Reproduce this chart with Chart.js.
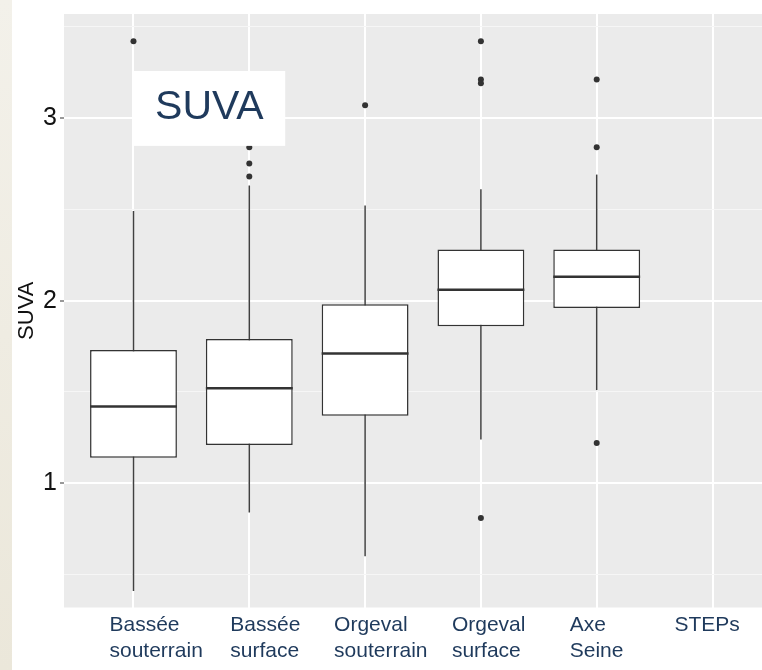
<!DOCTYPE html>
<html>
<head>
<meta charset="utf-8">
<script src="https://cdn.jsdelivr.net/npm/chart.js@4"></script>
<style>
html, body { margin: 0; padding: 0; background: #fff; overflow: hidden; width: 762px; height: 670px; }
.strip { position: absolute; left: 0; top: 0; width: 12px; height: 670px; background: linear-gradient(#F3F1EA, #EBE7DA); }
#wrap { position: absolute; left: 12px; top: 0; width: 774px; height: 670px; }
</style>
</head>
<body>
<div class="strip"></div>
<div id="wrap"><canvas id="suvaCanvas"></canvas></div>
<script>
// categories (x), one box per category; STEPs has no data
const categories = [['Bassée', 'souterrain'], ['Bassée', 'surface'], ['Orgeval', 'souterrain'], ['Orgeval', 'surface'], ['Axe', 'Seine'], ['STEPs']];
const whiskerLow  = [0.41, 0.84, 0.60, 1.24, 1.51, null];
const q1          = [1.14, 1.21, 1.37, 1.86, 1.96, null];
const median      = [1.42, 1.52, 1.71, 2.06, 2.13, null];
const q3          = [1.73, 1.79, 1.98, 2.28, 2.28, null];
const whiskerHigh = [2.49, 2.63, 2.52, 2.61, 2.69, null];
const outliers    = [[3.42], [2.84, 2.75, 2.68], [3.07], [3.42, 3.21, 3.19, 0.81], [3.21, 2.84, 1.22], []];
const yTicks = [0.5, 1, 1.5, 2, 2.5, 3, 3.5];
const yTitle = 'SUVA';
const panelLabel = 'SUVA';

// the category names sit in left-aligned text boxes, a bit left of each tick
const labelShift = [-24, -19, -31, -29, -27, -38];
const labelFont = '21px "Liberation Sans", Arial, sans-serif';

const boxData = [];
categories.forEach((c, i) => {
    if (q1[i] !== null) boxData.push({ x: i + 1, y: [q1[i], q3[i]] });
});
const outlierData = [];
outliers.forEach((list, i) => list.forEach(v => outlierData.push({ x: i + 1, y: v })));

const boxPlot = {
    id: 'boxPlot',
    beforeDraw(chart) {
        const a = chart.chartArea, ctx = chart.ctx;
        ctx.save();
        ctx.fillStyle = '#EBEBEB';
        ctx.fillRect(a.left, a.top, a.right - a.left, a.bottom - a.top);
        ctx.restore();
    },
    beforeDatasetsDraw(chart) {
        const y = chart.scales.y, ctx = chart.ctx;
        const meta = chart.getDatasetMeta(0);
        ctx.save();
        ctx.strokeStyle = '#404040';
        ctx.lineWidth = 1.5;
        meta.data.forEach((bar, j) => {
            const i = boxData[j].x - 1;
            ctx.beginPath();
            ctx.moveTo(bar.x, y.getPixelForValue(whiskerLow[i]));
            ctx.lineTo(bar.x, y.getPixelForValue(whiskerHigh[i]));
            ctx.stroke();
        });
        ctx.restore();
    },
    afterDatasetsDraw(chart) {
        const y = chart.scales.y, ctx = chart.ctx;
        const meta = chart.getDatasetMeta(0);
        ctx.save();
        ctx.strokeStyle = '#333333';
        ctx.lineWidth = 2.5;
        meta.data.forEach((bar, j) => {
            const i = boxData[j].x - 1;
            const py = y.getPixelForValue(median[i]);
            ctx.beginPath();
            ctx.moveTo(bar.x - bar.width / 2, py);
            ctx.lineTo(bar.x + bar.width / 2, py);
            ctx.stroke();
        });
        ctx.restore();
    },
    afterDraw(chart) {
        const x = chart.scales.x, y = chart.scales.y, ctx = chart.ctx;
        const a = chart.chartArea;
        // category labels
        ctx.save();
        ctx.fillStyle = '#1F3A5C';
        ctx.font = labelFont;
        ctx.textAlign = 'left';
        ctx.textBaseline = 'alphabetic';
        categories.forEach((lines, i) => {
            const px = x.getPixelForValue(i + 1) + labelShift[i];
            lines.forEach((txt, k) => ctx.fillText(txt, px, a.bottom + 23.5 + k * 25.7));
        });
        ctx.restore();
        // panel title box
        const l = x.getPixelForValue(1.0), r = x.getPixelForValue(2.31);
        const t = y.getPixelForValue(3.257), b = y.getPixelForValue(2.847);
        ctx.save();
        ctx.fillStyle = '#ffffff';
        ctx.fillRect(l, t, r - l, b - t);
        ctx.fillStyle = '#1F3A5C';
        ctx.font = '41px "Liberation Sans", Arial, sans-serif';
        ctx.textAlign = 'center';
        ctx.textBaseline = 'middle';
        ctx.fillText(panelLabel, (l + r) / 2, (t + b) / 2 - 1);
        ctx.restore();
    }
};

const ctx = document.getElementById('suvaCanvas').getContext('2d');
new Chart(ctx, {
    type: 'bar',
    data: {
        datasets: [{
            data: boxData,
            backgroundColor: '#ffffff',
            borderColor: '#333333',
            borderWidth: 1.5,
            borderSkipped: false,
            barPercentage: 0.75,
            categoryPercentage: 1,
            order: 2
        }, {
            type: 'scatter',
            data: outlierData,
            pointRadius: 3,
            pointBackgroundColor: '#333333',
            pointBorderWidth: 0,
            order: 1
        }]
    },
    options: {
        responsive: true,
        maintainAspectRatio: false,
        animation: false,
        layout: { padding: { top: 14, right: 0, bottom: 0, left: 0 } },
        plugins: { legend: { display: false }, tooltip: { enabled: false } },
        scales: {
            x: {
                type: 'linear',
                offset: false,
                min: 0.4,
                max: 6.6,
                afterBuildTicks: s => { s.ticks = categories.map((c, i) => ({ value: i + 1 })); },
                afterFit: s => { s.height = 62.5; },
                border: { display: false },
                grid: { color: '#ffffff', lineWidth: 2, drawTicks: false, offset: false },
                ticks: { display: false }
            },
            y: {
                min: 0.32,
                max: 3.569,
                afterBuildTicks: s => { s.ticks = yTicks.map(v => ({ value: v })); },
                afterFit: s => { s.width = 52; s.paddingTop = 0; s.paddingBottom = 0; },
                border: { display: false },
                grid: {
                    color: c => Number.isInteger(c.tick.value) ? '#ffffff' : '#F6F6F6',
                    lineWidth: c => Number.isInteger(c.tick.value) ? 2 : 1,
                    tickColor: c => Number.isInteger(c.tick.value) ? '#333333' : 'rgba(0,0,0,0)',
                    tickWidth: 1,
                    tickLength: 4
                },
                ticks: {
                    padding: 3,
                    color: '#111111',
                    font: { family: '"Liberation Sans", Arial, sans-serif', size: 25 },
                    callback: v => Number.isInteger(v) ? String(v) : ''
                },
                title: {
                    display: true,
                    text: yTitle,
                    color: '#111111',
                    padding: { top: 2, bottom: 0 },
                    font: { family: '"Liberation Sans", Arial, sans-serif', size: 22 }
                }
            }
        }
    },
    plugins: [boxPlot]
});
</script>
</body>
</html>
